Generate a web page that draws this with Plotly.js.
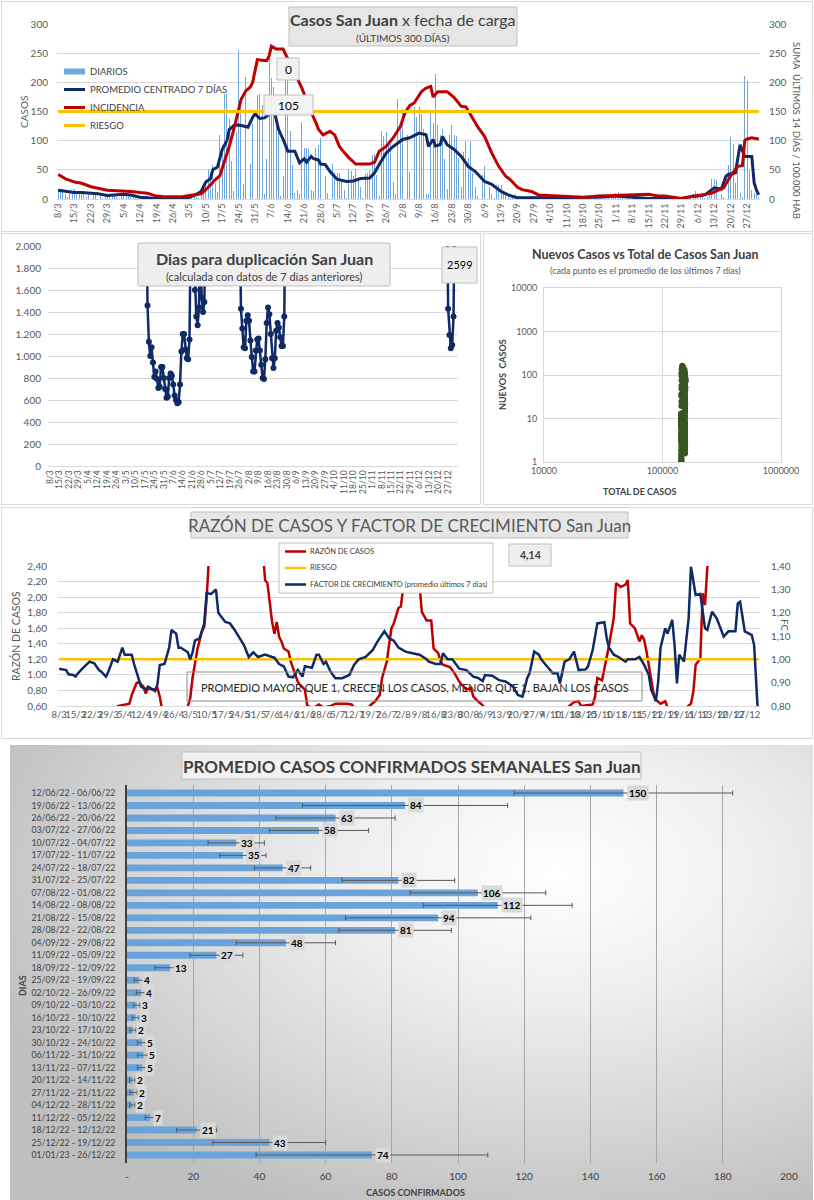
<!DOCTYPE html>
<html><head><meta charset="utf-8">
<script src="https://cdn.plot.ly/plotly-3.0.1.min.js"></script>
<style>
body{margin:0;background:#fff;width:814px;height:1200px;position:relative;overflow:hidden;font-family:Lato,sans-serif}
.p{position:absolute}
.b{position:absolute;border:1px solid #d9d9d9;box-sizing:border-box;pointer-events:none}
#c5{background:radial-gradient(ellipse 75% 80% at 68% 28%, #ffffff 0%, #eeeeee 35%, #d2d2d2 75%, #bfbfbf 100%)}
</style></head><body>
<div id="c1" class="p" style="left:0;top:0;width:814px;height:232px"></div>
<div id="c2" class="p" style="left:0;top:232px;width:481px;height:273px"></div>
<div id="c3" class="p" style="left:481px;top:232px;width:333px;height:273px"></div>
<div id="c4" class="p" style="left:0;top:505px;width:814px;height:235px"></div>
<div id="c5" class="p" style="left:10px;top:745px;width:803px;height:455px"></div>
<div class="b" style="left:1px;top:1px;width:812px;height:231px"></div>
<div class="b" style="left:1px;top:233px;width:480px;height:272px"></div>
<div class="b" style="left:483px;top:233px;width:330px;height:272px"></div>
<div class="b" style="left:1px;top:507px;width:812px;height:232px"></div>
<script>
// ---------------- DATA ----------------
const FECHA_INICIO = [2022, 2, 8]; // 8/3/2022, 300 days
const diarios = [
17,18,17,8,3,14,12, 17,12,11,10,11,4,10, 11,10,9,11,5,2,8, 9,8,6,7,3,2,10,
14,8,9,6,3,2,5, 5,4,3,3,1,1,2, 2,1,1,2,0,0,1, 2,1,2,1,0,1,3,
5,9,8,4,2,14,22, 33,52,46,58,27,12,110, 92,180,180,137,65,14,115, 256,169,25,209,157,60,130,
230,178,180,162,8,68,253, 207,192,160,115,5,40,210, 205,116,58,10,15,9,132, 88,88,85,15,14,87,93,
104,52,40,10,17,60,47, 45,45,35,15,2,52,48, 40,52,35,20,1,43,45, 50,75,78,42,5,117,108,
115,100,95,30,8,172,122, 155,120,110,47,17,157,140, 157,146,120,9,8,152,131, 214,127,110,120,68,17,109,
127,110,108,70,20,80,100, 70,100,45,20,5,40,42, 57,25,20,8,2,24,24, 24,12,10,4,1,6,8,
5,4,3,2,0,2,5, 4,4,3,2,1,3,3, 3,3,2,2,1,3,3, 3,3,2,2,1,2,2,
2,2,1,2,0,3,5, 8,5,6,4,2,5,5, 10,12,6,4,2,5,6, 6,5,4,3,1,2,3,
3,2,2,1,1,2,2, 2,2,2,1,1,2,2, 3,2,3,5,2,8,13, 10,11,6,2,3,12,34,
34,33,25,8,3,12,58, 106,95,28,58,10,3,211, 203,50,15,10,8,4];

const promDia = [0,3,7,10,14,17,21,25,28,31,35,38,42,49,53,56,59,61,63,65,66,68,70,72,73,75,77,79,81,83,84,86,88,90,91,92,93,94,96,98,101,103,105,106,108,109,111,112,114,116,119,123,126,129,133,135,137,140,143,147,150,154,157,158,160,161,163,164,166,169,172,175,178,182,185,189,192,196,200,210,220,230,238,245,252,259,266,271,273,276,279,280,283,285,286,287,289,291,293,296,297,298,299];
const promVal = [15,13,11,11,10,9,6,7,8,7,3,2,1,1,1,3,8,13,29,35,50,55,85,100,119,126,127,125,123,140,146,138,139,145,152,155,140,120,102,82,82,62,69,63,73,69,67,60,59,47,34,30,31,35,36,45,59,79,90,102,105,113,110,90,102,91,93,107,93,85,73,56,47,30,25,13,7,2,2,2,2,3,5,3,1,1,1,5,5,7,16,19,17,39,42,43,45,93,73,73,28,15,7];

const incDia = [0,3,7,10,14,18,21,25,28,31,35,38,42,45,49,53,56,58,61,63,65,67,69,70,72,73,75,77,78,80,82,83,84,85,87,89,90,91,93,96,98,100,102,104,106,108,110,111,113,115,116,118,120,122,124,127,130,133,135,137,140,143,146,148,150,152,155,157,159,160,162,166,169,172,174,176,179,182,185,188,191,193,196,198,202,205,210,217,224,231,238,245,252,256,259,266,270,273,276,279,281,284,287,288,290,292,293,294,296,297,299];
const incVal = [42,35,29,27,21,18,15,14,14,13,11,10,5,4,4,4,6,7,9,16,25,33,40,53,75,90,120,153,170,185,192,200,219,239,238,237,245,262,257,257,240,215,207,190,170,148,131,120,110,115,116,110,90,80,71,60,60,60,63,82,90,105,124,148,160,165,184,190,193,175,184,184,174,159,158,145,124,107,79,56,39,33,20,16,13,7,6,5,3,5,6,7,8,5,5,1,4,6,8,10,14,19,40,45,56,57,100,103,105,104,103];
const riesgoIncidencia = 150;

const dupDia = [70,71,72,73,74,75,76,77,78,79,80,81,82,83,84,85,86,87,88,89,90,91,92,93,94,95,96,97,98,99,100,101,102,103,104,105,106,107,108,109,110,111,112,113,114,115,116,117,
139,140,141,142,143,144,145,146,147,148,149,150,151,152,153,154,155,156,157,158,159,160,161,162,163,164,165,166,167,168,169,170,171,172,173,174,175,
292,293,294,295,296,297,298,299];
const dupVal = [3500,2700,1460,1130,1000,1080,940,810,860,790,710,720,900,900,800,700,620,630,800,840,820,740,640,600,570,580,740,1040,1200,1200,1060,980,970,1150,2300,2600,2100,1600,1360,1280,1440,2200,1530,1400,1490,2400,3000,3500,
3500,2600,1430,1250,1080,1070,1320,1370,1320,1140,990,860,860,1050,1150,1160,1050,920,800,790,970,1300,1440,1380,1200,980,890,980,1230,1300,1260,1170,1090,1090,1360,2600,3200,
3200,2800,1430,1190,1070,1100,1360,2599];

const totalInicial = 143800;

const razonDia = [0,12,24,25,27,30,31,33,34,36,37,38,40,42,43,44,49,54,55,56,57,59,61,62,63,64,70,80,87,88,89,91,92,93,94,95,96,98,99,101,102,103,105,106,108,110,111,113,116,118,120,123,125,126,130,133,135,137,138,140,142,143,145,146,147,149,151,153,154,155,157,159,160,162,163,164,167,169,171,173,174,176,177,179,181,183,200,217,218,220,222,223,227,228,229,230,232,233,235,237,238,240,242,243,244,246,247,248,249,250,251,252,253,254,255,257,259,260,265,268,270,271,272,274,275,276,277,279,290,299];
const razonVal = [0.45,0.5,0.55,0.6,0.61,0.63,0.74,0.89,0.91,0.85,0.76,0.83,0.81,0.83,0.72,0.55,0.45,0.5,0.6,0.7,0.96,1.32,1.56,1.62,1.98,2.5,3.5,3.2,2.6,2.22,2.18,1.68,1.53,1.68,1.49,1.43,1.34,1.3,1.17,1.0,0.91,0.87,0.81,0.61,0.57,0.6,0.62,0.58,0.6,0.63,0.63,0.63,0.62,0.58,0.5,0.61,0.66,0.74,0.96,1.17,1.6,1.66,1.86,1.88,2.11,2.5,2.8,2.5,2.2,1.81,1.7,1.7,1.34,1.28,1.17,1.13,1.1,1.02,0.91,0.85,0.81,0.83,0.72,0.66,0.61,0.5,0.3,0.5,0.6,0.65,0.66,0.6,0.61,0.62,0.72,0.96,0.93,1.08,1.38,1.73,2.18,2.13,2.16,2.22,1.66,1.6,1.51,1.43,1.51,1.45,1.3,1.13,0.96,0.76,0.68,0.63,0.66,0.58,0.45,0.58,0.63,0.78,1.13,1.21,2.05,1.9,2.39,3.0,4.0,4.14];
const riesgoRazon = 1.2;

const fcDia = [0,3,4,6,7,8,10,13,15,17,18,20,21,23,25,27,28,31,32,34,35,37,38,40,41,42,43,45,47,48,50,51,52,55,56,57,58,60,62,63,65,67,68,71,73,75,77,79,81,83,85,88,91,92,94,96,98,100,102,104,105,108,110,111,113,114,116,118,121,124,126,128,131,133,134,136,139,141,143,145,148,151,154,157,158,161,163,164,166,168,171,174,177,179,181,182,185,188,191,194,196,198,200,201,203,205,206,208,211,213,214,216,218,220,222,225,226,228,230,233,234,235,237,239,242,243,246,248,250,252,253,254,255,256,257,259,260,262,263,264,265,267,269,270,272,274,276,277,279,281,284,286,289,290,291,293,296,297,298,299];
const fcVal = [0.96,0.954,0.936,0.933,0.926,0.94,0.961,0.99,0.983,0.954,0.947,0.926,0.947,1.0,0.99,1.05,1.02,1.02,0.98,0.92,0.883,0.871,0.883,0.871,0.864,0.893,0.976,0.98,1.05,1.126,1.11,1.05,1.05,1.03,1.0,1.03,1.08,1.09,1.154,1.283,1.28,1.3,1.2,1.16,1.154,1.126,1.09,1.06,1.01,1.03,1.01,1.02,1.01,1.007,0.98,0.97,0.926,0.923,0.954,0.926,0.97,0.964,1.02,1.02,0.98,0.99,0.947,0.919,0.919,0.933,0.976,1.0,1.01,1.03,1.04,1.076,1.12,1.09,1.08,1.05,1.033,1.026,1.02,1.0,0.99,0.98,0.98,1.026,1.0,1.0,0.96,0.954,0.926,0.92,0.907,0.933,0.93,0.911,0.904,0.883,0.847,0.84,0.919,0.94,1.033,1.02,1.0,0.976,0.94,0.94,0.897,0.99,1.0,1.033,0.954,0.957,0.97,1.04,1.154,1.159,1.09,1.05,1.02,1.01,0.99,1.0,1.0,1.01,0.976,0.933,0.869,0.847,0.82,0.904,1.05,1.133,1.11,1.169,1.06,0.897,1.02,0.99,1.176,1.397,1.276,1.28,1.133,1.126,1.204,1.176,1.097,1.12,1.12,1.24,1.247,1.12,1.104,1.06,0.8,0.7];
const riesgoFC = 1.0;

const semanas = ['12/06/22 - 06/06/22','19/06/22 - 13/06/22','26/06/22 - 20/06/22','03/07/22 - 27/06/22','10/07/22 - 04/07/22','17/07/22 - 11/07/22','24/07/22 - 18/07/22','31/07/22 - 25/07/22','07/08/22 - 01/08/22','14/08/22 - 08/08/22','21/08/22 - 15/08/22','28/08/22 - 22/08/22','04/09/22 - 29/08/22','11/09/22 - 05/09/22','18/09/22 - 12/09/22','25/09/22 - 19/09/22','02/10/22 - 26/09/22','09/10/22 - 03/10/22','16/10/22 - 10/10/22','23/10/22 - 17/10/22','30/10/22 - 24/10/22','06/11/22 - 31/10/22','13/11/22 - 07/11/22','20/11/22 - 14/11/22','27/11/22 - 21/11/22','04/12/22 - 28/11/22','11/12/22 - 05/12/22','18/12/22 - 12/12/22','25/12/22 - 19/12/22','01/01/23 - 26/12/22'];
const promedios = [150,84,63,58,33,35,47,82,106,112,94,81,48,27,13,3.7,4.3,2.9,2.6,1.8,4.6,5,4.6,1.6,2,1.6,7,21,43,74];
const errores = [33,31,18,15,8.5,7,8.5,17,20.5,22.5,28,17,15,8,4.5,1.5,1.5,1,1,0.9,1.5,1.8,1.4,0.8,1.1,0.8,1.5,6,17,35];
const ticksCasos = [0,20,40,60,80,100,120,140,160,180,200];
const ticksCasosTexto = ['-','20','40','60','80','100','120','140','160','180','200'];

// ---------------- HELPERS ----------------
const F = 'Lato, "Open Sans", sans-serif';
const NAVY = '#0f2a66', RED = '#c00000', ORANGE = '#ffc000', BLUE = '#6ea8de', GRID = '#d9d9d9', TXT = '#595959';
const dias = diarios.map((_, i) => i);
function etiqueta(i){ const d = new Date(FECHA_INICIO[0], FECHA_INICIO[1], FECHA_INICIO[2] + i); return d.getDate() + '/' + (d.getMonth() + 1); }
const ticks7 = dias.filter(i => i % 7 === 0);
const ticks7txt = ticks7.map(etiqueta);
function conv(W, H, m){ const pw = W - m.l - m.r, ph = H - m.t - m.b;
  return { X: px => (px - m.l) / pw, Y: py => (H - m.b - py) / ph }; }
function box(c, x0, y0, x1, y1, fill, line){ return {type:'rect', xref:'paper', yref:'paper', x0:c.X(x0), x1:c.X(x1), y0:c.Y(y1), y1:c.Y(y0), fillcolor:fill, line:{color:line||'#bfbfbf', width:1}, layer:'above'}; }
function seg(c, x0, x1, y, color, w){ return {type:'line', xref:'paper', yref:'paper', x0:c.X(x0), x1:c.X(x1), y0:c.Y(y), y1:c.Y(y), line:{color:color, width:w}, layer:'above'}; }
function txt(c, x, y, text, size, opt){ return Object.assign({xref:'paper', yref:'paper', x:c.X(x), y:c.Y(y), text:text, showarrow:false, xanchor:'center', yanchor:'middle', font:{family:F, size:size, color:'#404040'}}, opt||{}); }
const cfg = {displayModeBar:false, staticPlot:true};

// ---------------- PANEL 1 ----------------
(function(){
  const W = 814, H = 232, m = {l:57, r:54, t:24, b:33}; const c = conv(W, H, m);
  const traces = [
    {type:'bar', x:dias, y:diarios, name:'DIARIOS', marker:{color:BLUE}, width:0.4},
    {type:'scatter', mode:'lines', x:promDia, y:promVal, name:'PROMEDIO CENTRADO 7 DÍAS', line:{color:NAVY, width:3}},
    {type:'scatter', mode:'lines', x:incDia, y:incVal, name:'INCIDENCIA', yaxis:'y2', line:{color:RED, width:3}},
    {type:'scatter', mode:'lines', x:dias, y:dias.map(() => riesgoIncidencia), name:'RIESGO', yaxis:'y2', line:{color:ORANGE, width:3}}
  ];
  const leg = {font:{family:F, size:9.5, color:'#404040'}, xanchor:'left'};
  const layout = {width:W, height:H, margin:m, paper_bgcolor:'#fff', plot_bgcolor:'#fff', font:{family:F, color:TXT}, bargap:0, showlegend:false,
    xaxis:{range:[-0.5, 299.5], tickmode:'array', tickvals:ticks7, ticktext:ticks7txt, tickangle:-90, tickfont:{size:9, color:TXT}, showgrid:false, zeroline:false, showline:true, linecolor:GRID, ticks:''},
    yaxis:{range:[0, 300], dtick:50, gridcolor:GRID, zeroline:false, tickfont:{size:10, color:TXT}, ticklabelstandoff:8},
    yaxis2:{range:[0, 300], dtick:50, overlaying:'y', side:'right', showgrid:false, zeroline:false, tickfont:{size:10, color:TXT}, ticklabelstandoff:8},
    shapes:[box(c, 289, 7, 517, 46, '#e7e6e6', '#bfbfbf'), box(c, 277, 58, 299, 80, '#f2f2f2', '#bfbfbf'), box(c, 264, 95, 313, 115, '#f2f2f2', '#bfbfbf'),
      {type:'rect', xref:'paper', yref:'paper', x0:c.X(64), x1:c.X(85), y0:c.Y(74.5), y1:c.Y(68.5), fillcolor:BLUE, line:{width:0}, layer:'above'},
      seg(c, 64, 85, 89.5, NAVY, 3), seg(c, 64, 85, 107.5, RED, 3), seg(c, 64, 85, 125.5, ORANGE, 3)],
    annotations:[
      txt(c, 403, 20, '<b>Casos San Juan</b> x fecha de carga', 16),
      txt(c, 403, 38, '(ÚLTIMOS 300 DÍAS)', 10),
      txt(c, 288, 69, '0', 12, {font:{family:F, size:12, color:'#000'}}),
      txt(c, 288.5, 105, '105', 12, {font:{family:F, size:12, color:'#000'}}),
      txt(c, 88, 71.5, 'DIARIOS', 9.5, leg),
      txt(c, 88, 89.5, 'PROMEDIO CENTRADO 7 DÍAS', 9.5, leg),
      txt(c, 88, 107.5, 'INCIDENCIA', 9.5, leg),
      txt(c, 88, 125.5, 'RIESGO', 9.5, leg),
      txt(c, 24, 112, 'CASOS', 10, {textangle:-90, font:{family:F, size:10, color:TXT}}),
      txt(c, 797, 130, 'SUMA  ÚLTIMOS 14 DÍAS / 100.000 HAB', 9.5, {textangle:90, font:{family:F, size:9.5, color:TXT}})
    ]};
  Plotly.newPlot('c1', traces, layout, cfg);
})();

// ---------------- PANEL 2 ----------------
(function(){
  const W = 481, H = 273, m = {l:48, r:23, t:14, b:39}; const c = conv(W, H, m);
  const traces = [{type:'scatter', mode:'lines+markers', x:dupDia, y:dupVal, line:{color:NAVY, width:2.5}, marker:{color:NAVY, size:6}, showlegend:false}];
  const layout = {width:W, height:H, margin:m, paper_bgcolor:'#fff', plot_bgcolor:'#fff', separators:',.', font:{family:F, color:TXT},
    xaxis:{range:[-1.5, 301.3], tickmode:'array', tickvals:ticks7, ticktext:ticks7txt, tickangle:-90, tickfont:{size:8.5, color:TXT}, showgrid:false, zeroline:false, showline:true, linecolor:GRID, ticks:''},
    yaxis:{range:[0, 2000], dtick:200, tickformat:',.0f', gridcolor:GRID, zeroline:false, tickfont:{size:10, color:TXT}, ticklabelstandoff:6},
    shapes:[box(c, 138, 11, 390, 54, '#efefef', '#bfbfbf'), box(c, 442, 15, 477, 51, '#efefef', '#bfbfbf')],
    annotations:[
      txt(c, 264, 26, '<b>Dias para duplicación San Juan</b>', 16),
      txt(c, 264, 45, '(calculada con datos de 7 días anteriores)', 11),
      txt(c, 459.5, 33, '2599', 11, {font:{family:F, size:11, color:'#000'}})
    ]};
  Plotly.newPlot('c2', traces, layout, cfg);
})();

// ---------------- PANEL 3 ----------------
(function(){
  const W = 333, H = 273, m = {l:63, r:33, t:56, b:43}; const c = conv(W, H, m);
  const xs = [], ys = []; let acum = totalInicial;
  diarios.forEach((v, i) => { acum += v; if (i >= 6) { const s = diarios.slice(i - 6, i + 1).reduce((a, b) => a + b, 0) / 7; if (s > 0) { xs.push(acum); ys.push(s); } } });
  const traces = [{type:'scatter', mode:'markers', x:xs, y:ys, marker:{color:'#375623', size:6}, showlegend:false}];
  const layout = {width:W, height:H, margin:m, paper_bgcolor:'#fff', plot_bgcolor:'#fff', font:{family:F, color:TXT},
    xaxis:{type:'log', range:[4, 6], tickvals:[10000, 100000, 1000000], tickformat:'d', gridcolor:GRID, zeroline:false, showline:true, mirror:true, linecolor:GRID, tickfont:{size:9, color:TXT}},
    yaxis:{type:'log', range:[0, 4], tickvals:[1, 10, 100, 1000, 10000], tickformat:'d', gridcolor:GRID, zeroline:false, showline:true, mirror:true, linecolor:GRID, tickfont:{size:9, color:TXT}, ticklabelstandoff:4},
    annotations:[
      txt(c, 164, 23, '<b>Nuevos Casos vs Total de Casos San Juan</b>', 12.5),
      txt(c, 164, 38, '(cada punto es el promedio de los últimos 7 días)', 9, {font:{family:F, size:9, color:TXT}}),
      txt(c, 158, 259, '<b>TOTAL DE CASOS</b>', 9),
      txt(c, 21, 143, '<b>NUEVOS  CASOS</b>', 9, {textangle:-90})
    ]};
  Plotly.newPlot('c3', traces, layout, cfg);
})();

// ---------------- PANEL 4 ----------------
(function(){
  const W = 814, H = 235, m = {l:58, r:54, t:61, b:34}; const c = conv(W, H, m);
  const traces = [
    {type:'scatter', mode:'lines', x:razonDia, y:razonVal, name:'RAZÓN DE CASOS', line:{color:RED, width:2.5}},
    {type:'scatter', mode:'lines', x:dias, y:dias.map(() => riesgoRazon), name:'RIESGO', line:{color:ORANGE, width:2.5}},
    {type:'scatter', mode:'lines', x:fcDia, y:fcVal, name:'FACTOR DE CRECIMIENTO (promedio últimos 7 días)', yaxis:'y2', line:{color:NAVY, width:2.5}}
  ];
  const leg = {font:{family:F, size:7.5, color:'#404040'}, xanchor:'left'};
  const layout = {width:W, height:H, margin:m, paper_bgcolor:'#fff', plot_bgcolor:'#fff', separators:',.', font:{family:F, color:TXT}, showlegend:false,
    xaxis:{range:[-0.5, 299.5], tickmode:'array', tickvals:ticks7, ticktext:ticks7txt, tickangle:0, tickfont:{size:9.5, color:TXT}, showgrid:false, zeroline:false, showline:true, linecolor:GRID, ticks:''},
    yaxis:{range:[0.6, 2.4], dtick:0.2, tickformat:'.2f', gridcolor:GRID, zeroline:false, tickfont:{size:10, color:TXT}, ticklabelstandoff:10},
    yaxis2:{range:[0.8, 1.4], dtick:0.1, tickformat:'.2f', overlaying:'y', side:'right', showgrid:false, zeroline:false, tickfont:{size:10, color:TXT}, ticklabelstandoff:10},
    shapes:[box(c, 191, 7, 628, 33, '#e7e6e6', '#bfbfbf'), box(c, 509, 39, 551, 61, '#efefef', '#bfbfbf'),
      box(c, 279, 38, 493, 88, '#ffffff', '#bfbfbf'),
      seg(c, 285, 306, 46.5, RED, 2.5), seg(c, 285, 306, 63, ORANGE, 2.5), seg(c, 285, 306, 79.5, NAVY, 2.5),
      {type:'rect', xref:'paper', yref:'paper', x0:c.X(187), x1:c.X(642), y0:c.Y(196), y1:c.Y(167), line:{color:'#8c8c8c', width:1}, fillcolor:'rgba(0,0,0,0)', layer:'above'}],
    annotations:[
      txt(c, 409.5, 21, 'RAZÓN DE CASOS Y FACTOR DE CRECIMIENTO San Juan', 17, {font:{family:F, size:17, color:TXT}}),
      txt(c, 308, 46.5, 'RAZÓN DE CASOS', 7.5, leg),
      txt(c, 308, 63, 'RIESGO', 7.5, leg),
      txt(c, 308, 79.5, 'FACTOR DE CRECIMIENTO (promedio últimos 7 días)', 7.5, leg),
      txt(c, 530, 50, '<b>4,14</b>', 10.5),
      txt(c, 414.5, 182, 'PROMEDIO MAYOR QUE 1, CRECEN LOS CASOS, MENOR QUE 1, BAJAN LOS CASOS', 11, {font:{family:F, size:11, color:'#262626'}}),
      txt(c, 15, 131, 'RAZÓN DE CASOS', 10.5, {textangle:-90, font:{family:F, size:10.5, color:TXT}}),
      txt(c, 785, 120, 'FC', 10, {textangle:90, font:{family:F, size:10, color:TXT}})
    ]};
  Plotly.newPlot('c4', traces, layout, cfg);
})();

// ---------------- PANEL 5 ----------------
(function(){
  const W = 803, H = 455, m = {l:117, r:24, t:40, b:37}; const c = conv(W, H, m);
  const traces = [{type:'bar', orientation:'h', x:promedios, y:semanas, marker:{color:'#6aa3da'},
    error_x:{type:'data', array:errores, color:'#595959', thickness:1, width:2.5}, showlegend:false}];
  const labels = promedios.map((v, i) => ({xref:'x', yref:'y', x:v, y:semanas[i], text:'<b>' + Math.round(v) + '</b>', showarrow:false, xanchor:'left', yanchor:'middle', xshift:3,
    bgcolor:'#d9d9d9', borderpad:1, font:{family:F, size:10, color:'#000'}}));
  const layout = {width:W, height:H, margin:m, paper_bgcolor:'rgba(0,0,0,0)', plot_bgcolor:'rgba(0,0,0,0)', font:{family:F, color:'#404040'}, bargap:0.45,
    xaxis:{range:[0, 200], tickmode:'array', tickvals:ticksCasos, ticktext:ticksCasosTexto, gridcolor:'#a6a6a6', zeroline:false, tickfont:{size:10, color:'#404040'}, ticklabelstandoff:6},
    yaxis:{type:'category', categoryorder:'array', categoryarray:semanas, autorange:'reversed', showline:true, linecolor:'#404040', linewidth:2, showgrid:false, tickfont:{size:8.7, color:'#404040'}, ticklabelstandoff:8},
    shapes:[box(c, 172, 7, 631, 34, '#f2f2f2', '#bfbfbf')],
    annotations:labels.concat([
      txt(c, 401.5, 21, '<b>PROMEDIO CASOS CONFIRMADOS SEMANALES San Juan</b>', 17),
      txt(c, 12, 240, '<b>DIAS</b>', 9, {textangle:-90}),
      txt(c, 405, 447, '<b>CASOS CONFIRMADOS</b>', 9)
    ])};
  Plotly.newPlot('c5', traces, layout, cfg);
})();
</script>
</body></html>
